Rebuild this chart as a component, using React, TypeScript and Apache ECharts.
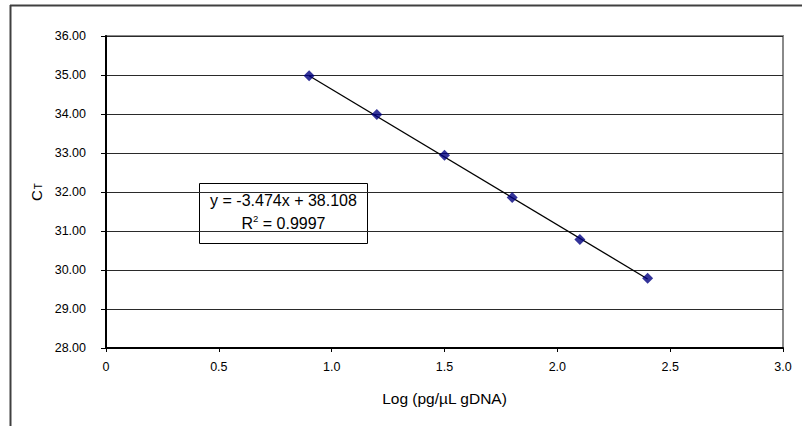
import React, { useEffect, useRef } from "react";
import * as echarts from "echarts";

const logConc = [0.9, 1.2, 1.5, 1.8, 2.1, 2.4];
const ctValues = [34.98, 33.99, 32.94, 31.86, 30.78, 29.79];
const slope = -3.474;
const intercept = 38.108;
const rSquared = "0.9997";
const xTicks = { min: 0, max: 3, interval: 0.5 };
const yTicks = { min: 28, max: 36, interval: 1 };

const FONT = "'Liberation Sans', Arial, Helvetica, sans-serif";
const NARROW = "'Liberation Sans Narrow', 'Liberation Sans', Arial, sans-serif";

export default function App() {
  const ref = useRef<HTMLDivElement>(null);
  useEffect(() => {
    if (!ref.current) return;
    const chart = echarts.init(ref.current, null, { renderer: "svg" });
    const trendX = [logConc[0], logConc[logConc.length - 1]];
    const trend = trendX.map((x) => [x, slope * x + intercept]);
    chart.setOption({
      animation: false,
      backgroundColor: "#ffffff",
      grid: {
        left: 106,
        top: 36,
        right: 19,
        bottom: 78,
        show: true,
        borderColor: "#8a8a8a",
        borderWidth: 2,
        backgroundColor: "#ffffff",
      },
      xAxis: {
        type: "value",
        min: xTicks.min,
        max: xTicks.max,
        interval: xTicks.interval,
        name: "Log (pg/\u00b5L gDNA)",
        nameLocation: "middle",
        nameGap: 42,
        nameTextStyle: { fontFamily: FONT, fontSize: 15.5, color: "#000" },
        axisLine: { show: true, onZero: false, lineStyle: { color: "#000", width: 2 } },
        axisTick: { show: true, length: 4, lineStyle: { color: "#000", width: 1 } },
        axisLabel: {
          margin: 12,
          fontFamily: NARROW,
          fontSize: 12.5,
          color: "#000",
          formatter: (v: number) => (v === 0 ? "0" : v.toFixed(1)),
        },
        splitLine: { show: false },
      },
      yAxis: {
        type: "value",
        min: yTicks.min,
        max: yTicks.max,
        interval: yTicks.interval,
        name: "{c|C}{s|T}",
        nameLocation: "middle",
        nameRotate: 90,
        nameGap: 54,
        nameTextStyle: {
          fontFamily: FONT,
          color: "#000",
          rich: {
            c: { fontFamily: FONT, fontSize: 15, lineHeight: 18, verticalAlign: "bottom", color: "#000" },
            s: { fontFamily: FONT, fontSize: 10, lineHeight: 9, verticalAlign: "bottom", color: "#000", padding: [0, 0, 0, 1] },
          },
        },
        axisLine: { show: true, onZero: false, lineStyle: { color: "#000", width: 2 } },
        axisTick: { show: true, length: 5, lineStyle: { color: "#000", width: 1 } },
        axisLabel: {
          margin: 20,
          fontFamily: NARROW,
          fontSize: 12.5,
          color: "#000",
          formatter: (v: number) => v.toFixed(2),
        },
        splitLine: { show: true, lineStyle: { color: "#2a2a2a", width: 1 } },
      },
      series: [
        {
          type: "line",
          data: trend,
          symbol: "none",
          lineStyle: { color: "#000", width: 1.3 },
          z: 2,
          silent: true,
        },
        {
          type: "scatter",
          data: logConc.map((x, i) => [x, ctValues[i]]),
          symbol: "diamond",
          symbolSize: 11,
          itemStyle: { color: "#000080" },
          z: 3,
        },
      ],
      graphic: [
        { type: "line", shape: { x1: 10, y1: 5.5, x2: 810, y2: 5.5 }, style: { stroke: "#404040", lineWidth: 2 }, z: 10 },
        { type: "line", shape: { x1: 10.5, y1: 5, x2: 10.5, y2: 430 }, style: { stroke: "#404040", lineWidth: 2 }, z: 10 },
        {
          type: "group",
          left: 199,
          top: 183,
          z: 20,
          children: [
            { type: "rect", shape: { x: 0.5, y: 0.5, width: 168, height: 60 }, style: { fill: "#fff", stroke: "#000", lineWidth: 1 } },
            {
              type: "text",
              x: 84.5,
              y: 17,
              style: {
                text: `y = ${slope.toFixed(3)}x + ${intercept.toFixed(3)}`,
                font: `16px ${FONT}`,
                fill: "#000",
                align: "center",
                verticalAlign: "middle",
              },
            },
            {
              type: "text",
              x: 84.5,
              y: 39,
              style: {
                text: `{r|R}{p|2}{r| = ${rSquared}}`,
                align: "center",
                verticalAlign: "middle",
                rich: {
                  r: { fontFamily: FONT, fontSize: 16, lineHeight: 18, verticalAlign: "bottom", fill: "#000" },
                  p: { fontFamily: FONT, fontSize: 9.5, lineHeight: 18, verticalAlign: "top", fill: "#000" },
                },
              },
            },
          ],
        },
      ],
    });
    return () => chart.dispose();
  }, []);
  return (
    <div
      ref={ref}
      style={{ position: "fixed", left: 0, top: 0, width: 802, height: 426, background: "#fff" }}
    />
  );
}
